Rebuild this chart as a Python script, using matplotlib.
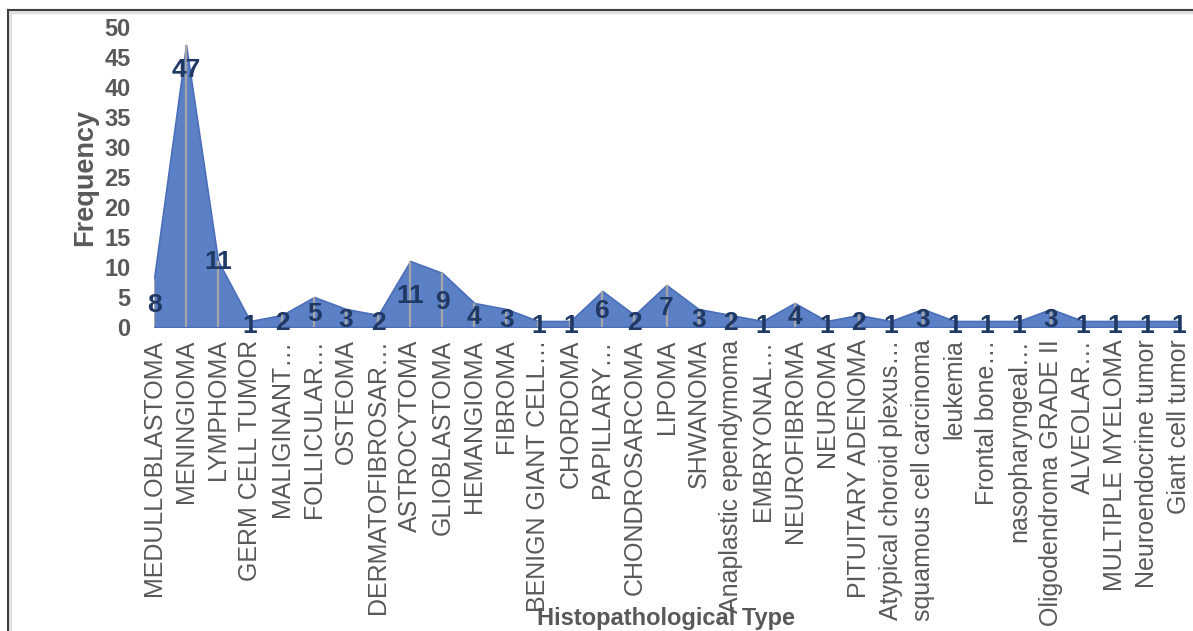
import matplotlib
matplotlib.use("Agg")
import matplotlib.pyplot as plt
from matplotlib.lines import Line2D
import numpy as np

categories = [
    "MEDULLOBLASTOMA", "MENINGIOMA", "LYMPHOMA", "GERM CELL TUMOR",
    "MALIGINANT…", "FOLLICULAR…", "OSTEOMA", "DERMATOFIBROSAR…",
    "ASTROCYTOMA", "GLIOBLASTOMA", "HEMANGIOMA", "FIBROMA",
    "BENIGN GIANT CELL…", "CHORDOMA", "PAPILLARY…", "CHONDROSARCOMA",
    "LIPOMA", "SHWANOMA", "Anaplastic ependymoma", "EMBRYONAL…",
    "NEUROFIBROMA", "NEUROMA", "PITUITARY ADENOMA", "Atypical choroid plexus…",
    "squamous cell carcinoma", "leukemia", "Frontal bone…", "nasopharyngeal…",
    "Oligodendroma GRADE II", "ALVEOLAR…", "MULTIPLE MYELOMA",
    "Neuroendocrine tumor", "Giant cell tumor",
]
frequency = [8, 47, 11, 1, 2, 5, 3, 2, 11, 9, 4, 3, 1, 1, 6, 2, 7, 3, 2, 1,
             4, 1, 2, 1, 3, 1, 1, 1, 3, 1, 1, 1, 1]
y_ticks = [0, 5, 10, 15, 20, 25, 30, 35, 40, 45, 50]

plt.rcParams['font.family'] = ['Liberation Sans', 'DejaVu Sans']

W, H = 1193, 631
fig = plt.figure(figsize=(W / 100, H / 100), dpi=100)
ax = fig.add_axes([154 / W, 1 - 327 / H, (1179 - 154) / W, 300 / H])

x = np.arange(len(categories))
vals = np.array(frequency, dtype=float)

ax.fill_between(x, 0, vals, color="#5B80C6", edgecolor="#4B6FB8", linewidth=1.2, zorder=2)
ax.vlines(x, 0, vals, color="#A6A6A6", linewidth=1.6, zorder=3)
ax.axhline(0, color="#D0D0D0", linewidth=2.5, zorder=1)

label_y = vals / 2.0 - 0.4
label_y[1] = vals[1] - 4.2
label_y[2] = vals[2] - 0.2
for xi, v, ly in zip(x, frequency, label_y):
    ax.text(xi, ly, str(v), ha="center", va="center", fontsize=19,
            fontweight="bold", color="#1F3864", zorder=4)

ax.set_xlim(0, len(categories) - 1)
ax.set_ylim(0, 50)
ax.set_yticks(y_ticks)
ax.set_yticklabels([str(t) for t in y_ticks], fontsize=17, fontweight="bold", color="#595959")
ax.set_xticks(x)
ax.set_xticklabels(categories, rotation=90, fontsize=18, color="#595959", va="top", ha="center")
ax.tick_params(axis="y", length=0, pad=17)
ax.tick_params(axis="x", length=0, pad=9)
for s in ax.spines.values():
    s.set_visible(False)

fig.text(666 / W, 1 - 619 / H, "Histopathological Type", ha="center", va="center",
         fontsize=17, fontweight="bold", color="#595959")
fig.text(85 / W, 1 - 177 / H, "Frequency", ha="center", va="center", rotation=90,
         fontsize=19.5, fontweight="bold", color="#595959")

# outer frame (left and top)
fig.add_artist(Line2D([9.5 / W, 9.5 / W], [0, 1 - 11.5 / H], transform=fig.transFigure,
                      color="#E0E0E0", linewidth=2.5))
fig.add_artist(Line2D([9.5 / W, 1], [1 - 11.5 / H, 1 - 11.5 / H], transform=fig.transFigure,
                      color="#E0E0E0", linewidth=2.5))
fig.add_artist(Line2D([8 / W, 8 / W], [0, 1 - 10 / H], transform=fig.transFigure,
                      color="#404040", linewidth=1.5))
fig.add_artist(Line2D([8 / W, 1], [1 - 10 / H, 1 - 10 / H], transform=fig.transFigure,
                      color="#404040", linewidth=1.5))

fig.savefig("out.png", dpi=100)
